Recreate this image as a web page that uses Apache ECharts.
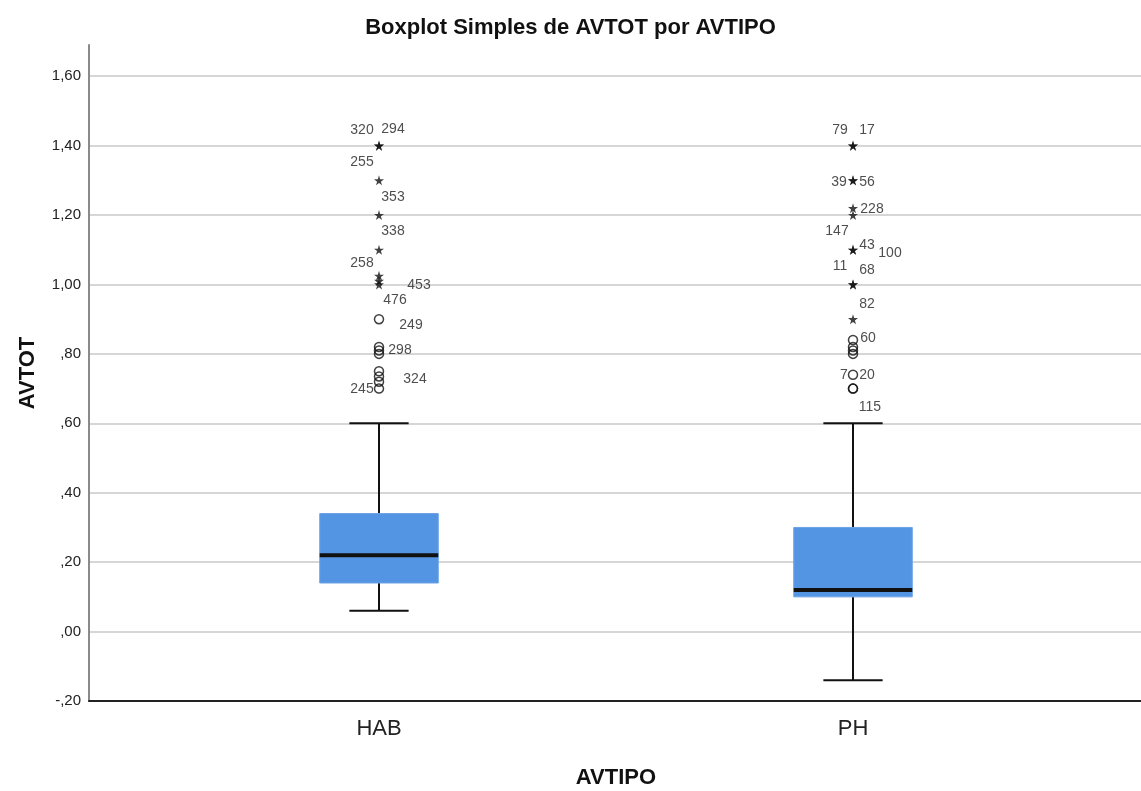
<!DOCTYPE html>
<html>
<head>
<meta charset="utf-8">
<script src="https://cdn.jsdelivr.net/npm/echarts@6/dist/echarts.min.js"></script>
<style>
html,body{margin:0;padding:0;background:#fff;}
#chart{width:1141px;height:791px;}
</style>
</head>
<body>
<div id="chart"></div>
<script>
// ---- data ----
const categories = ['HAB', 'PH'];
const lowerWhisker = [0.06, -0.14];
const q1 = [0.14, 0.10];
const median = [0.22, 0.12];
const q3 = [0.34, 0.30];
const upperWhisker = [0.60, 0.60];

const habOutliers = [0.90, 0.82, 0.81, 0.80, 0.75, 0.735, 0.72, 0.70];
const habExtremes = [1.40, 1.40, 1.30, 1.20, 1.10, 1.025, 1.01, 1.00];
const phOutliers = [0.84, 0.82, 0.81, 0.80, 0.74, 0.70, 0.70];
const phExtremes = [1.40, 1.40, 1.30, 1.30, 1.22, 1.20, 1.10, 1.10, 1.00, 1.00, 0.90];

const habCaseIds = ['320', '294', '255', '353', '338', '258', '453', '476', '249', '298', '324', '245'];
const habCaseValues = [1.40, 1.40, 1.30, 1.20, 1.10, 1.025, 1.00, 1.01, 0.90, 0.80, 0.735, 0.70];
const phCaseIds = ['79', '17', '39', '56', '228', '147', '43', '100', '11', '68', '82', '60', '7', '20', '115'];
const phCaseValues = [1.40, 1.40, 1.30, 1.30, 1.22, 1.20, 1.10, 1.10, 1.00, 1.00, 0.90, 0.84, 0.74, 0.74, 0.70];

const yTicks = [-0.2, 0, 0.2, 0.4, 0.6, 0.8, 1.0, 1.2, 1.4, 1.6];

// ---- label placement (style) ----
const habLabelOffsets = [[-17,-16],[14,-17],[-17,-18],[14,-18],[14,-19],[-17,-13],[40,1],[16,19],[32,6],[21,-4],[36,3],[-17,1]];
const phLabelOffsets = [[-13,-16],[14,-16],[-14,2],[14,2],[19,1],[-16,16],[14,-5],[37,3],[-13,-18],[14,-14],[14,-15],[15,-2],[-9,0],[14,0],[17,19]];

const FONT = 'Liberation Sans, Arial, sans-serif';
const STAR = 'path://M50,0 L61,35 L98,35 L68,57 L79,91 L50,70 L21,91 L32,57 L2,35 L39,35 Z';

function fmt(v) {
  let s = Math.abs(v).toFixed(2).replace('.', ',');
  if (s.startsWith('0,')) s = s.slice(1);
  return (v < -1e-9 ? '-' : '') + s;
}

const boxData = categories.map((c, i) => [i, lowerWhisker[i], q1[i], median[i], q3[i], upperWhisker[i]]);

function pts(catIdx, arr) { return arr.map(v => [catIdx, v]); }

function labelItems(catIdx, ids, vals, offs) {
  return ids.map((id, k) => ({
    value: [catIdx, vals[k]],
    name: id,
    label: { offset: offs[k] }
  }));
}

const chart = echarts.init(document.getElementById('chart'), null, { renderer: 'canvas' });

const yMin = -0.2, yMax = 1.69;

const option = {
  animation: false,
  backgroundColor: '#ffffff',
  title: {
    text: 'Boxplot Simples de AVTOT por AVTIPO',
    left: 'center',
    top: 12,
    textStyle: { fontFamily: FONT, fontSize: 22, fontWeight: 'bold', color: '#111' }
  },
  grid: [
    { left: 89, right: 0, top: 45, bottom: 90, outerBoundsMode: 'none', containLabel: false },
    { left: 142, right: 51, top: 45, bottom: 90, outerBoundsMode: 'none', containLabel: false }
  ],
  xAxis: [
    {
      type: 'value', gridIndex: 0, min: 0, max: 1,
      axisLine: { show: true, onZero: false, lineStyle: { color: '#222', width: 2 } },
      axisTick: { show: false }, axisLabel: { show: false }, splitLine: { show: false }
    },
    {
      type: 'category', gridIndex: 1, data: categories,
      axisLine: { show: false }, axisTick: { show: false },
      axisLabel: { margin: 17, fontFamily: FONT, fontSize: 22, color: '#222' },
      name: 'AVTIPO', nameLocation: 'middle', nameGap: 66,
      nameTextStyle: { fontFamily: FONT, fontSize: 22, fontWeight: 'bold', color: '#111' }
    }
  ],
  yAxis: [
    {
      type: 'value', gridIndex: 0, min: yMin, max: yMax, interval: 0.2,
      axisLine: { show: true, lineStyle: { color: '#8a8a8a', width: 2 } },
      axisTick: { show: false },
      axisLabel: {
        margin: 8, fontFamily: FONT, fontSize: 15, color: '#222',
        showMaxLabel: false,
        formatter: v => yTicks.some(t => Math.abs(t - v) < 1e-6) ? fmt(v) : ''
      },
      splitLine: { show: true, showMinLine: false, showMaxLine: false, lineStyle: { color: '#d6d6d6', width: 2 } },
      name: 'AVTOT', nameLocation: 'middle', nameGap: 50,
      nameTextStyle: { fontFamily: FONT, fontSize: 22, fontWeight: 'bold', color: '#111' }
    },
    {
      type: 'value', gridIndex: 1, min: yMin, max: yMax, show: false
    }
  ],
  series: [
    {
      type: 'custom', xAxisIndex: 1, yAxisIndex: 1,
      data: boxData,
      encode: { x: 0, y: [1, 2, 3, 4, 5] },
      renderItem: function (params, api) {
        const i = api.value(0);
        const band = api.size([1, 0])[0];
        const bw = band * 0.25;
        const cw = bw * 0.5;
        const pLW = api.coord([i, api.value(1)]);
        const pQ1 = api.coord([i, api.value(2)]);
        const pMed = api.coord([i, api.value(3)]);
        const pQ3 = api.coord([i, api.value(4)]);
        const pUW = api.coord([i, api.value(5)]);
        const x = pQ1[0];
        const line = (x1, y1, x2, y2, w) => ({
          type: 'line', shape: { x1, y1, x2, y2 },
          style: { stroke: '#111', lineWidth: w }
        });
        return {
          type: 'group',
          children: [
            line(x, pQ3[1], x, pUW[1], 2),
            line(x, pQ1[1], x, pLW[1], 2),
            line(x - cw / 2, pUW[1], x + cw / 2, pUW[1], 2),
            line(x - cw / 2, pLW[1], x + cw / 2, pLW[1], 2),
            {
              type: 'rect',
              shape: { x: x - bw / 2, y: pQ3[1], width: bw, height: pQ1[1] - pQ3[1] },
              style: { fill: '#5394e3', stroke: '#6aa2e6', lineWidth: 1 }
            },
            line(x - bw / 2, pMed[1], x + bw / 2, pMed[1], 4)
          ]
        };
      },
      z: 2
    },
    {
      type: 'scatter', xAxisIndex: 1, yAxisIndex: 1,
      data: pts(0, habOutliers).concat(pts(1, phOutliers)),
      symbol: 'circle', symbolSize: 9,
      itemStyle: { color: 'rgba(255,255,255,0)', borderColor: '#111', borderWidth: 1.5 },
      z: 3
    },
    {
      type: 'scatter', xAxisIndex: 1, yAxisIndex: 1,
      data: pts(0, habExtremes).concat(pts(1, phExtremes)),
      symbol: STAR, symbolSize: 10,
      itemStyle: { color: '#111' },
      z: 3
    },
    {
      type: 'scatter', xAxisIndex: 1, yAxisIndex: 1,
      data: labelItems(0, habCaseIds, habCaseValues, habLabelOffsets)
        .concat(labelItems(1, phCaseIds, phCaseValues, phLabelOffsets)),
      symbolSize: 0,
      itemStyle: { color: 'rgba(0,0,0,0)' },
      label: {
        show: true, position: 'inside', formatter: p => p.name,
        fontFamily: FONT, fontSize: 14, color: '#222',
        align: 'center', verticalAlign: 'middle'
      },
      z: 4
    }
  ]
};

chart.setOption(option);
</script>
</body>
</html>
